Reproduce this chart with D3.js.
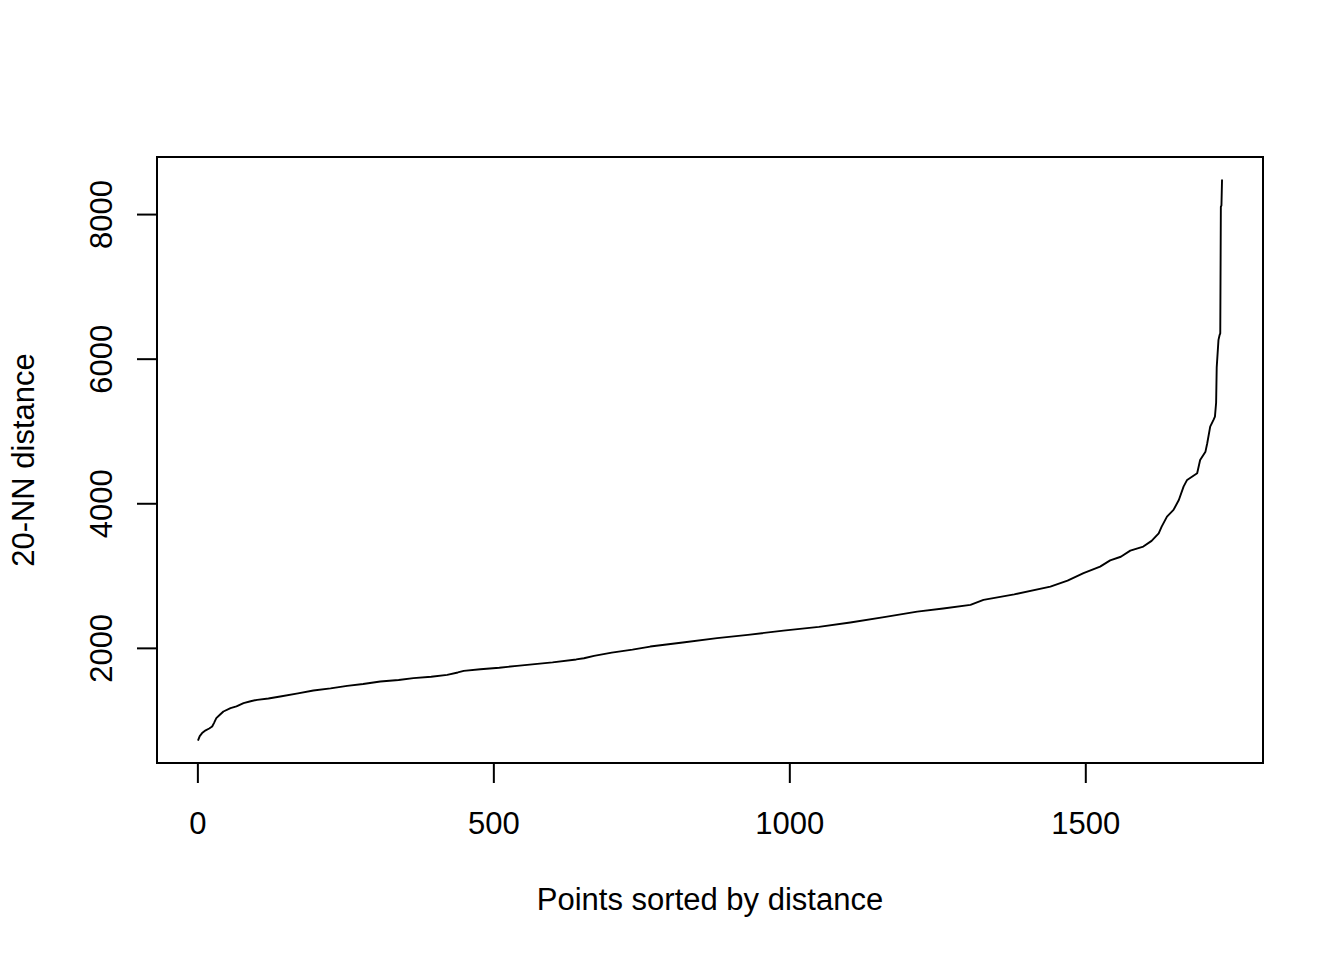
<!DOCTYPE html>
<html>
<head>
<meta charset="utf-8">
<script src="https://cdn.jsdelivr.net/npm/d3@7"></script>
<style>
  html, body { margin: 0; padding: 0; background: #fff; }
  svg { display: block; }
  text { font-family: "Liberation Sans", Arial, sans-serif; fill: #000; }
</style>
</head>
<body>
<svg id="chart" width="1344" height="960"></svg>
<script>
// Data (rank of point, 20-NN distance)
const rank = [1, 4, 8, 14, 20, 25, 28, 32, 38, 44, 56, 66, 78, 90, 101, 120, 140, 170, 196, 225,
  253, 280, 309, 340, 365, 395, 422, 440, 450, 478, 510, 540, 600, 640, 653, 670, 700, 735, 765, 820,
  878, 930, 990, 1050, 1103, 1160, 1216, 1260, 1306, 1328, 1380, 1441, 1470, 1497, 1525, 1542, 1560, 1576, 1598, 1612,
  1624, 1629, 1638, 1649, 1658, 1666, 1672, 1689, 1694, 1703, 1706, 1711, 1717, 1719, 1721, 1722, 1725, 1727, 1728, 1729,
  1730, 1731];
const distance = [718, 780, 821, 860, 885, 912, 960, 1028, 1075, 1120, 1166, 1190, 1235, 1262, 1281, 1300, 1327, 1370, 1410, 1440,
  1475, 1500, 1534, 1555, 1581, 1600, 1627, 1660, 1682, 1705, 1725, 1751, 1800, 1840, 1857, 1889, 1935, 1975, 2018, 2075,
  2134, 2180, 2239, 2290, 2350, 2425, 2502, 2545, 2594, 2664, 2740, 2848, 2930, 3033, 3124, 3210, 3260, 3345, 3401, 3480,
  3585, 3677, 3816, 3908, 4046, 4230, 4323, 4415, 4599, 4714, 4830, 5060, 5160, 5198, 5390, 5880, 6260, 6330, 6350, 8100,
  8120, 8479];
const xTicks = [0, 500, 1000, 1500];
const yTicks = [2000, 4000, 6000, 8000];
const xLabel = "Points sorted by distance";
const yLabel = "20-NN distance";

const svg = d3.select("#chart");
svg.append("rect").attr("width", 1344).attr("height", 960).attr("fill", "#fff");

const L = 157, R = 1263, T = 157, B = 763;
const FS = 31;

// R-style 4% padding
function pad(ext) { const d = (ext[1] - ext[0]) * 0.04; return [ext[0] - d, ext[1] + d]; }
const x = d3.scaleLinear().domain(pad(d3.extent(rank))).range([L, R]);
const y = d3.scaleLinear().domain(pad(d3.extent(distance))).range([B, T]);

const pts = rank.map((r, i) => [r, distance[i]]);
const line = d3.line().x(d => x(d[0])).y(d => y(d[1]));

svg.append("path")
  .datum(pts)
  .attr("d", line)
  .attr("fill", "none")
  .attr("stroke", "#000")
  .attr("stroke-width", 1.9)
  .attr("stroke-linejoin", "round");

// box
svg.append("rect")
  .attr("x", L).attr("y", T).attr("width", R - L).attr("height", B - T)
  .attr("fill", "none").attr("stroke", "#000").attr("stroke-width", 2);

// x axis
const gx = svg.append("g").attr("transform", `translate(0,${B})`)
  .call(d3.axisBottom(x).tickValues(xTicks).tickFormat(d3.format("d")).tickSize(20).tickSizeOuter(0));
gx.select(".domain").remove();
gx.selectAll(".tick line").attr("stroke", "#000").attr("stroke-width", 2);
gx.selectAll(".tick text")
  .attr("y", 71).attr("dy", null)
  .attr("font-size", FS)
  .attr("font-family", "Liberation Sans, Arial, sans-serif")
  .attr("fill", "#000");

// y axis
const gy = svg.append("g").attr("transform", `translate(${L},0)`)
  .call(d3.axisLeft(y).tickValues(yTicks).tickFormat(d3.format("d")).tickSize(20).tickSizeOuter(0));
gy.select(".domain").remove();
gy.selectAll(".tick line").attr("stroke", "#000").attr("stroke-width", 2);
gy.selectAll(".tick text")
  .attr("x", 0).attr("dy", null)
  .attr("text-anchor", "middle")
  .attr("transform", "translate(-45,0) rotate(-90)")
  .attr("font-size", FS)
  .attr("font-family", "Liberation Sans, Arial, sans-serif")
  .attr("fill", "#000");

// axis titles
svg.append("text")
  .attr("x", (L + R) / 2).attr("y", 910)
  .attr("text-anchor", "middle").attr("font-size", FS)
  .text(xLabel);
svg.append("text")
  .attr("transform", `translate(34,${(T + B) / 2}) rotate(-90)`)
  .attr("text-anchor", "middle").attr("font-size", FS)
  .text(yLabel);
</script>
</body>
</html>
